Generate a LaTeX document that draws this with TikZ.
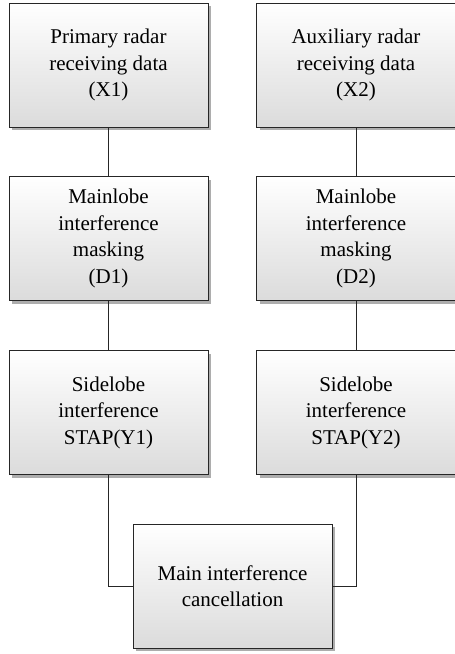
\documentclass[tikz,border=0pt]{standalone}
\usepackage{fontspec}
\setmainfont{Liberation Serif}
\usetikzlibrary{shadows}
\definecolor{BoxLow}{gray}{0.86}
\definecolor{Shade}{gray}{0.68}

\begin{document}
\begin{tikzpicture}[x=1pt,y=-1pt,
	blk/.style={draw=black!85, line width=0.8pt, top color=white, bottom color=BoxLow,
		minimum width=199pt, minimum height=124pt, align=center, inner sep=0pt,
		font=\fontsize{21}{26.5}\selectfont,
		drop shadow={shadow xshift=3pt, shadow yshift=-3pt, opacity=1, fill=Shade}},
	link/.style={draw=black!85, line width=0.8pt}]
		\useasboundingbox (0,0) rectangle (455,654);
		%Left chain
		\node[blk] (primX) at (108.5,65) {Primary radar\\receiving data\\(X1)};
		\node[blk] (maskL) at (108.5,238.5) {Mainlobe\\interference\\masking\\(D1)};
		\node[blk] (stapL) at (108.5,412.5) {Sidelobe\\interference\\STAP(Y1)};
		%Right chain
		\node[blk] (auxX) at (356,65) {Auxiliary radar\\receiving data\\(X2)};
		\node[blk] (maskR) at (356,238.5) {Mainlobe\\interference\\masking\\(D2)};
		\node[blk] (stapR) at (356,412.5) {Sidelobe\\interference\\STAP(Y2)};
		%Output
		\node[blk] (cancel) at (232.5,586) {Main interference\\cancellation};
		%lines
		\draw[link] (primX) -- (maskL);
		\draw[link] (maskL) -- (stapL);
		\draw[link] (auxX) -- (maskR);
		\draw[link] (maskR) -- (stapR);
		\draw[link] (stapL.south) |- (cancel.west);
		\draw[link] (stapR.south) |- (cancel.east);
\end{tikzpicture}
\end{document}
